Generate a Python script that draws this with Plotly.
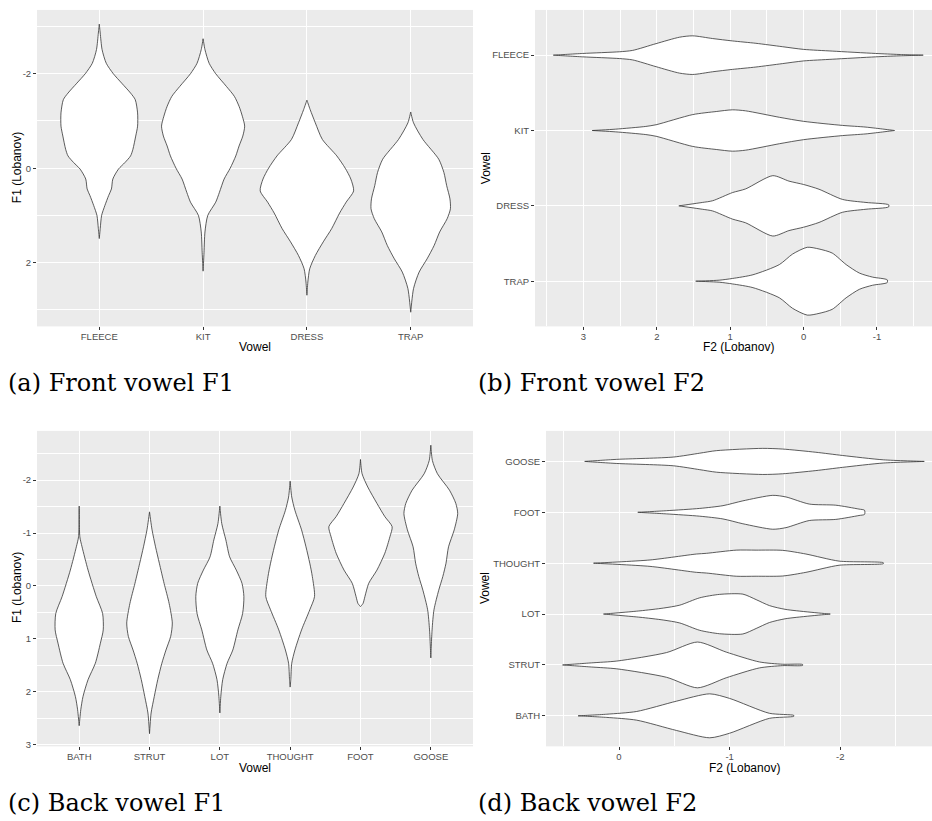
import plotly.graph_objects as go

# ---------------- data ----------------
front_vowels = ["FLEECE", "KIT", "DRESS", "TRAP"]
back_vowels = ["BATH", "STRUT", "LOT", "THOUGHT", "FOOT", "GOOSE"]

# each vowel: (Lobanov values along the violin, relative density; widest violin per panel = 100)
front_f1 = {
    "FLEECE": ([-3.05, -2.86, -2.51, -2.22, -2.0, -1.80, -1.59, -1.45, -1.17, -0.89, -0.68, -0.40, -0.26, -0.12, 0.02, 0.23, 0.44, 0.58, 0.79, 1.0, 1.28, 1.49],
               [0, 2, 6, 15, 30, 48, 67, 77, 82, 82, 78, 72, 67, 55, 41, 29, 26, 20, 12, 5, 2, 0]),
    "KIT": ([-2.74, -2.51, -2.22, -2.0, -1.73, -1.52, -1.31, -1.10, -0.89, -0.68, -0.47, -0.26, 0.0, 0.23, 0.51, 0.72, 1.0, 1.35, 1.78, 2.18],
            [0, 4, 13, 27, 50, 67, 77, 84, 89, 85, 77, 70, 58, 45, 35, 27, 10, 4, 2, 0]),
    "DRESS": ([-1.44, -1.24, -0.96, -0.61, -0.26, 0.0, 0.23, 0.48, 0.72, 0.95, 1.28, 1.56, 1.85, 2.13, 2.41, 2.69],
              [0, 7, 18, 33, 64, 82, 94, 100, 84, 70, 53, 35, 18, 6, 2, 0]),
    "TRAP": ([-1.19, -0.96, -0.61, -0.19, 0.09, 0.37, 0.65, 0.86, 1.07, 1.35, 1.64, 1.92, 2.2, 2.55, 3.05],
             [0, 6, 26, 60, 71, 77, 84, 85, 78, 62, 50, 35, 18, 6, 0]),
}

front_f2 = {
    "FLEECE": ([3.41, 3.01, 2.51, 2.33, 2.01, 1.69, 1.51, 1.24, 0.97, 0.65, 0.29, 0.0, -0.39, -0.98, -1.30, -1.63],
               [0, 5, 10, 14, 34, 53, 57, 49, 42, 35, 25, 17, 12, 5, 2, 0]),
    "KIT": ([2.88, 2.56, 2.15, 2.01, 1.51, 1.19, 0.97, 0.79, 0.33, 0.0, -0.53, -0.85, -1.24],
            [0, 4, 12, 17, 47, 56, 61, 58, 39, 27, 15, 10, 0]),
    "DRESS": ([1.70, 1.38, 1.24, 0.97, 0.79, 0.42, 0.20, 0.0, -0.21, -0.53, -0.85, -1.16],
              [0, 10, 15, 39, 50, 89, 73, 63, 49, 19, 10, 3]),
    "TRAP": ([1.47, 1.15, 0.97, 0.69, 0.33, 0.15, -0.05, -0.21, -0.39, -0.58, -0.76, -0.94, -1.14],
             [0, 3, 8, 19, 49, 80, 100, 95, 83, 49, 24, 12, 4]),
}

back_f1 = {
    "BATH": ([-1.51, -0.93, -0.74, -0.30, 0.20, 0.52, 0.83, 1.08, 1.46, 1.77, 2.09, 2.34, 2.64],
             [0, 2, 9, 28, 54, 74, 76, 67, 51, 28, 12, 5, 0]),
    "STRUT": ([-1.40, -1.06, -0.74, -0.43, -0.05, 0.33, 0.70, 0.95, 1.21, 1.46, 1.77, 2.09, 2.40, 2.79],
              [0, 8, 19, 31, 46, 62, 72, 67, 52, 39, 26, 15, 5, 0]),
    "LOT": ([-1.51, -1.18, -0.87, -0.55, -0.30, -0.05, 0.20, 0.52, 0.83, 1.21, 1.46, 1.77, 2.09, 2.40],
            [0, 6, 19, 31, 52, 70, 76, 72, 57, 41, 23, 9, 3, 0]),
    "THOUGHT": ([-1.98, -1.68, -1.43, -1.06, -0.74, -0.43, -0.18, 0.20, 0.45, 0.83, 1.21, 1.46, 1.77, 1.91],
                [0, 5, 15, 36, 50, 62, 70, 77, 62, 36, 15, 5, 2, 0]),
    "FOOT": ([-2.39, -2.12, -1.87, -1.56, -1.31, -1.12, -0.93, -0.62, -0.30, -0.05, 0.20, 0.33, 0.39],
             [0, 5, 23, 52, 77, 100, 93, 77, 52, 26, 14, 8, 0]),
    "GOOSE": ([-2.66, -2.37, -2.12, -1.81, -1.56, -1.37, -1.06, -0.74, -0.43, -0.18, 0.08, 0.45, 0.83, 1.36],
              [0, 5, 21, 59, 79, 85, 74, 56, 48, 38, 25, 10, 4, 0]),
}

back_f2 = {
    "GOOSE": ([0.31, 0.02, -0.49, -0.73, -0.88, -1.30, -1.48, -1.78, -2.02, -2.39, -2.76],
              [0, 9, 19, 36, 47, 57, 54, 40, 26, 7, 0]),
    "FOOT": ([-0.17, -0.43, -0.73, -0.94, -1.12, -1.39, -1.51, -1.72, -1.96, -2.17, -2.22],
             [0, 7, 17, 29, 50, 74, 67, 36, 31, 14, 9]),
    "THOUGHT": ([0.23, -0.28, -0.70, -0.79, -1.06, -1.24, -1.48, -1.69, -1.99, -2.39],
                [0, 14, 40, 43, 57, 57, 56, 40, 9, 2]),
    "LOT": ([0.14, -0.19, -0.40, -0.55, -0.73, -0.91, -1.12, -1.24, -1.36, -1.51, -1.91],
            [0, 14, 26, 39, 71, 86, 87, 63, 37, 20, 0]),
    "STRUT": ([0.51, 0.25, 0.02, -0.43, -0.71, -0.97, -1.27, -1.48, -1.66],
              [0, 9, 17, 54, 100, 56, 13, 3, 2]),
    "BATH": ([0.37, 0.11, -0.16, -0.52, -0.82, -1.0, -1.36, -1.58],
             [0, 7, 19, 64, 96, 76, 11, 2]),
}

captions = ["(a) Front vowel F1", "(b) Front vowel F2", "(c) Back vowel F1", "(d) Back vowel F2"]

# ---------------- layout helpers ----------------
W, H = 932, 821
MAXHW = 0.45
LINE = "#333333"
TICKFONT = dict(family="Liberation Sans, Arial, sans-serif", size=9.5, color="#4D4D4D")
TITLEFONT = dict(family="Liberation Sans, Arial, sans-serif", size=12, color="black")

fig = go.Figure()


def px_dom(a, b, total):
    return [a / total, b / total]


def ydom(top, bottom):
    return [1 - bottom / H, 1 - top / H]


def add_violins(data, order, xa, ya, vertical):
    for i, v in enumerate(order):
        vals, dens = data[v]
        pos = i + 1
        hw = [MAXHW * d / 100.0 for d in dens]
        side1 = [pos + h for h in hw]
        side2 = [pos - h for h in hw][::-1]
        cat = side1 + side2
        num = list(vals) + list(vals)[::-1]
        if vertical:
            xs, ys = cat, num
        else:
            xs, ys = num, cat
        xs.append(xs[0])
        ys.append(ys[0])
        fig.add_trace(go.Scatter(
            x=xs, y=ys, mode="lines", fill="toself", fillcolor="white",
            line=dict(color=LINE, width=0.8, shape="spline", smoothing=0.7),
            xaxis=xa, yaxis=ya, showlegend=False, hoverinfo="skip"))


# (a)
add_violins(front_f1, front_vowels, "x", "y", True)
# (b)  FLEECE on top
add_violins(front_f2, front_vowels[::-1], "x2", "y2", False)
# (c)
add_violins(back_f1, back_vowels, "x3", "y3", True)
# (d)  BATH at bottom
add_violins(back_f2, back_vowels, "x4", "y4", False)

grid = dict(showgrid=True, gridcolor="white", gridwidth=1.1, zeroline=False, showline=False,
            ticks="outside", ticklen=3, tickcolor=LINE, tickwidth=1, tickfont=TICKFONT)
minorgrid = dict(showgrid=True, gridcolor="white", gridwidth=0.55)


def cat_axis(names, dom, anchor, xdir=False):
    d = dict(grid, domain=dom, anchor=anchor, range=[0.4, len(names) + 0.6],
             tickmode="array", tickvals=list(range(1, len(names) + 1)), ticktext=names)
    if xdir:
        d["ticklabelstandoff"] = -2
    return d


def num_axis(dom, anchor, rng, major, minor, xdir=False):
    d = dict(grid, domain=dom, anchor=anchor, range=rng, tickmode="array",
             tickvals=major, ticktext=[("-" + str(abs(m))) if m < 0 else str(m) for m in major],
             minor=dict(minorgrid, tickmode="array", tickvals=minor))
    if xdir:
        d["ticklabelstandoff"] = -2
    return d


dom_top = ydom(10, 328)
dom_bot = ydom(433, 750)
dom_left = px_dom(37, 473, W)
dom_right_top = px_dom(535, W, W)
dom_right_bot = px_dom(546, W, W)

fig.update_layout(
    width=W, height=H, margin=dict(l=0, r=0, t=0, b=0),
    paper_bgcolor="white", plot_bgcolor="#EBEBEB",
    xaxis=cat_axis(front_vowels, dom_left, "y", True),
    yaxis=num_axis(dom_top, "x", [3.35, -3.35], [-2, 0, 2], [-3, -1, 1, 3]),
    xaxis2=num_axis(dom_right_top, "y2", [3.66, -1.75], [3, 2, 1, 0, -1], [3.5, 2.5, 1.5, 0.5, -0.5, -1.5], True),
    yaxis2=cat_axis(front_vowels[::-1], dom_top, "x2"),
    xaxis3=cat_axis(back_vowels, dom_left, "y3", True),
    yaxis3=num_axis(dom_bot, "x3", [3.03, -2.93], [-2, -1, 0, 1, 2, 3], [-2.5, -1.5, -0.5, 0.5, 1.5, 2.5]),
    xaxis4=num_axis(dom_right_bot, "y4", [0.66, -2.83], [0, -1, -2], [0.5, -0.5, -1.5, -2.5], True),
    yaxis4=cat_axis(back_vowels, dom_bot, "x4"),
)


def ann(text, x, y, angle=0, font=TITLEFONT, xanchor="center"):
    fig.add_annotation(text=text, x=x / W, y=1 - y / H, xref="paper", yref="paper",
                       showarrow=False, textangle=angle, font=font,
                       xanchor=xanchor, yanchor="middle")


# axis titles
ann("F1 (Lobanov)", 17, 169, -90)
ann("Vowel", 255, 349)
ann("Vowel", 486, 169, -90)
ann("F2 (Lobanov)", 738, 349)
ann("F1 (Lobanov)", 17, 591, -90)
ann("Vowel", 255, 772)
ann("Vowel", 485, 591, -90)
ann("F2 (Lobanov)", 744, 772)

# captions
capfont = dict(family="DejaVu Serif, serif", size=24, color="black")
ann(captions[0], 6, 385, 0, capfont, "left")
ann(captions[1], 476, 385, 0, capfont, "left")
ann(captions[2], 6, 807, 0, capfont, "left")
ann(captions[3], 476, 807, 0, capfont, "left")

fig.write_html("out.html", config={"displayModeBar": False},
               post_script="document.body.style.margin='0';document.body.style.overflow='hidden';")
